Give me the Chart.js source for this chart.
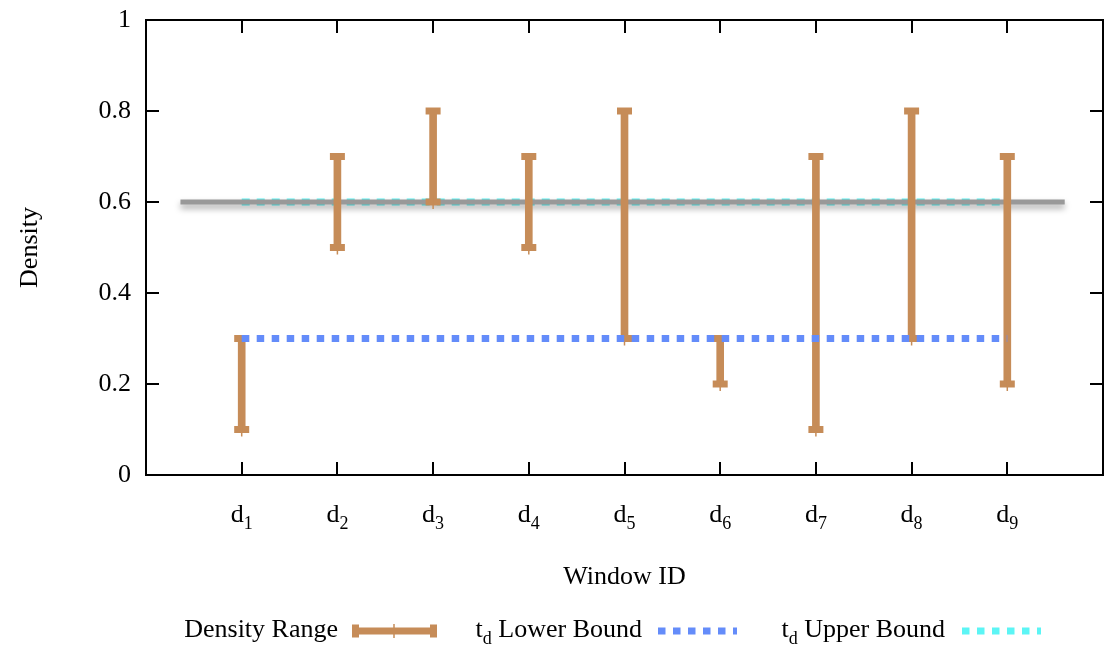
<!DOCTYPE html>
<html>
<head>
<meta charset="utf-8">
<script src="https://cdn.jsdelivr.net/npm/chart.js@4.4.0/dist/chart.umd.min.js"></script>
<style>
  html, body { margin: 0; padding: 0; background: #fff; overflow: hidden; }
  #chart { display: block; }
</style>
</head>
<body>
<canvas id="chart" width="1104" height="646"></canvas>
<script>
// data
const windowIds = ['1', '2', '3', '4', '5', '6', '7', '8', '9'];
const windowX = [1, 2, 3, 4, 5, 6, 7, 8, 9];
const densityLow = [0.1, 0.5, 0.6, 0.5, 0.3, 0.2, 0.1, 0.3, 0.2];
const densityHigh = [0.3, 0.7, 0.8, 0.7, 0.8, 0.3, 0.7, 0.8, 0.7];
const lowerBound = 0.3;
const upperBound = 0.6;
const refLineX = [0.36, 9.6];   // grey reference line, sits on the upper bound
const yTicks = [0, 0.2, 0.4, 0.6, 0.8, 1];

const SERIF = "'Liberation Serif', 'Times New Roman', serif";
const FONT = '26px ' + SERIF;
const SUB = '18px ' + SERIF;
const BROWN = '#c68c58';
const BLUE = '#648cfa';
const CYAN = '#5cf5f5';
const GREY = '#999999';
const AREA = { left: 146, top: 20, right: 1103, bottom: 475 };

const bars = windowX.map((x, i) => ({ x: x, y: [densityLow[i], densityHigh[i]] }));
const caps = [];
windowX.forEach((x, i) => {
  caps.push({ x: x, y: densityLow[i] });
  caps.push({ x: x, y: densityHigh[i] });
});
const pointMarks = windowX.map((x, i) => ({ x: x, y: densityLow[i] }));

// gnuplot-like frame, inward ticks, subscript labels, titles and legend
const decorations = {
  id: 'decorations',
  afterLayout(chart) {
    // pin the plot frame to where it sits in the picture
    Object.assign(chart.chartArea, AREA, { width: AREA.right - AREA.left, height: AREA.bottom - AREA.top });
    const ys = chart.scales.y, xs = chart.scales.x;
    ys.top = AREA.top; ys.bottom = AREA.bottom; ys.height = AREA.bottom - AREA.top;
    xs.left = AREA.left; xs.right = AREA.right; xs.width = AREA.right - AREA.left;
    xs.top = AREA.bottom;
    ys.configure();
    xs.configure();
  },
  beforeDatasetDraw(chart, args) {
    if (chart.data.datasets[args.index].label === 'ref') {
      const ctx = chart.ctx;
      ctx.save();
      ctx.shadowColor = 'rgba(0,0,0,0.35)';
      ctx.shadowBlur = 6;
      ctx.shadowOffsetY = 4;
    }
  },
  afterDatasetDraw(chart, args) {
    if (chart.data.datasets[args.index].label === 'ref') chart.ctx.restore();
  },
  afterDraw(chart) {
    const ctx = chart.ctx;
    const a = chart.chartArea;
    const xs = chart.scales.x, ys = chart.scales.y;
    ctx.save();
    ctx.strokeStyle = '#000';
    ctx.lineWidth = 2;
    ctx.strokeRect(a.left, a.top, a.right - a.left, a.bottom - a.top);

    ctx.beginPath();
    yTicks.forEach(v => {
      const py = Math.round(ys.getPixelForValue(v));
      ctx.moveTo(a.left, py); ctx.lineTo(a.left + 13, py);
      ctx.moveTo(a.right, py); ctx.lineTo(a.right - 13, py);
    });
    windowX.forEach(v => {
      const px = Math.round(xs.getPixelForValue(v));
      ctx.moveTo(px, a.bottom); ctx.lineTo(px, a.bottom - 13);
      ctx.moveTo(px, a.top); ctx.lineTo(px, a.top + 13);
    });
    ctx.stroke();

    ctx.fillStyle = '#000';
    ctx.textBaseline = 'alphabetic';
    // x tick labels d_i
    windowX.forEach((v, i) => {
      const px = xs.getPixelForValue(v);
      ctx.font = FONT;
      const w1 = ctx.measureText('d').width;
      ctx.font = SUB;
      const w2 = ctx.measureText(windowIds[i]).width;
      const x0 = px - (w1 + w2) / 2;
      ctx.textAlign = 'left';
      ctx.font = FONT;
      ctx.fillText('d', x0, 522);
      ctx.font = SUB;
      ctx.fillText(windowIds[i], x0 + w1, 529);
    });

    // axis titles
    ctx.font = FONT;
    ctx.textAlign = 'center';
    ctx.fillText('Window ID', (a.left + a.right) / 2, 584);
    ctx.save();
    ctx.translate(37, (a.top + a.bottom) / 2);
    ctx.rotate(-Math.PI / 2);
    ctx.fillText('Density', 0, 0);
    ctx.restore();

    // legend
    const base = 637, ly = 631;
    const subText = (main, sub, right) => {
      ctx.font = FONT;
      const wt = ctx.measureText('t').width;
      const wm = ctx.measureText(main).width;
      ctx.font = SUB;
      const ws = ctx.measureText(sub).width;
      const x0 = right - (wt + ws + wm);
      ctx.textAlign = 'left';
      ctx.font = FONT;
      ctx.fillText('t', x0, base);
      ctx.font = SUB;
      ctx.fillText(sub, x0 + wt, base + 7);
      ctx.font = FONT;
      ctx.fillText(main, x0 + wt + ws, base);
    };
    ctx.font = FONT;
    ctx.textAlign = 'right';
    ctx.fillText('Density Range', 338, base);
    ctx.strokeStyle = BROWN;
    ctx.lineWidth = 7;
    ctx.beginPath();
    ctx.moveTo(352, ly); ctx.lineTo(437, ly);
    ctx.moveTo(355.5, ly - 6.5); ctx.lineTo(355.5, ly + 6.5);
    ctx.moveTo(433.5, ly - 6.5); ctx.lineTo(433.5, ly + 6.5);
    ctx.stroke();
    ctx.lineWidth = 1.5;
    ctx.beginPath();
    ctx.moveTo(394, ly - 7); ctx.lineTo(394, ly + 7);
    ctx.stroke();

    ctx.fillStyle = '#000';
    subText(' Lower Bound', 'd', 642);
    ctx.strokeStyle = BLUE;
    ctx.lineWidth = 7;
    ctx.setLineDash([7.5, 7.5]);
    ctx.beginPath();
    ctx.moveTo(658, ly); ctx.lineTo(737, ly);
    ctx.stroke();

    ctx.fillStyle = '#000';
    subText(' Upper Bound', 'd', 945);
    ctx.strokeStyle = CYAN;
    ctx.beginPath();
    ctx.moveTo(962, ly); ctx.lineTo(1041, ly);
    ctx.stroke();
    ctx.setLineDash([]);
    ctx.restore();
  }
};

new Chart(document.getElementById('chart'), {
  type: 'bar',
  data: {
    datasets: [
      {
        label: 'td Lower Bound', type: 'line', order: 1,
        data: [{ x: windowX[0], y: lowerBound }, { x: windowX[windowX.length - 1], y: lowerBound }],
        borderColor: BLUE, borderWidth: 7, borderDash: [7.5, 7.5], borderCapStyle: 'butt',
        pointRadius: 0, fill: false
      },
      {
        label: 'marks', type: 'line', order: 2, showLine: false,
        data: pointMarks, pointStyle: 'line', rotation: 90, pointRadius: 7,
        pointBorderWidth: 1.5, pointBorderColor: BROWN, pointBackgroundColor: BROWN
      },
      {
        label: 'caps', type: 'line', order: 3, showLine: false,
        data: caps, pointStyle: 'line', pointRadius: 7.5,
        pointBorderWidth: 7, pointBorderColor: BROWN, pointBackgroundColor: BROWN
      },
      {
        label: 'Density Range', type: 'bar', order: 4,
        data: bars, backgroundColor: BROWN, borderWidth: 0, barThickness: 7
      },
      {
        label: 'ref', type: 'line', order: 5,
        data: [{ x: refLineX[0], y: upperBound }, { x: refLineX[1], y: upperBound }],
        borderColor: GREY, borderWidth: 5, pointRadius: 0, fill: false
      },
      {
        label: 'td Upper Bound', type: 'line', order: 6,
        data: [{ x: windowX[0], y: upperBound }, { x: windowX[windowX.length - 1], y: upperBound }],
        borderColor: CYAN, borderWidth: 7, borderDash: [8, 7], borderCapStyle: 'butt',
        pointRadius: 0, fill: false
      }
    ]
  },
  options: {
    responsive: false,
    maintainAspectRatio: false,
    animation: false,
    layout: { autoPadding: false, padding: { top: 12, right: 1, left: 0, bottom: 0 } },
    plugins: { legend: { display: false }, tooltip: { enabled: false } },
    scales: {
      x: {
        type: 'linear', min: 0, max: 10, offset: false,
        ticks: { display: false, stepSize: 1 },
        grid: { display: false, offset: false }, border: { display: false },
        afterFit: s => { s.height = 171; }
      },
      y: {
        type: 'linear', min: 0, max: 1,
        ticks: {
          stepSize: 0.2, padding: 15, color: '#000',
          font: { family: SERIF, size: 26 },
          callback: v => String(Math.round(v * 10) / 10)
        },
        grid: { display: false, drawTicks: false }, border: { display: false },
        afterFit: s => { s.width = 146; }
      }
    }
  },
  plugins: [decorations]
});
</script>
</body>
</html>
